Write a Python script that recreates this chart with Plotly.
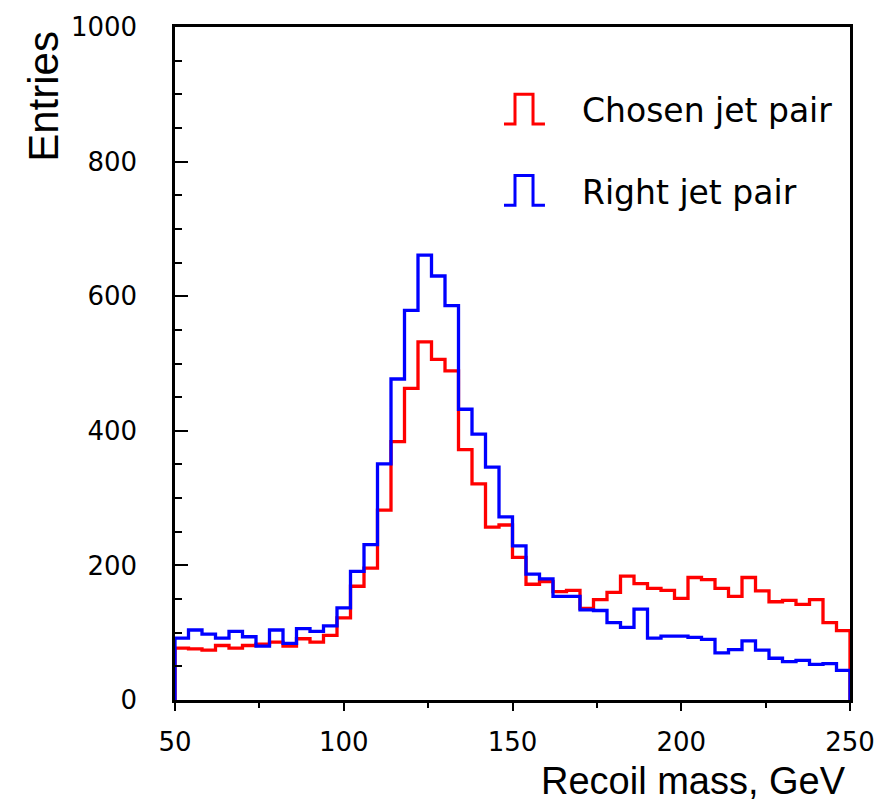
import plotly.graph_objects as go

# Bin edges (4 GeV bins from 50 to 250)
bin_edges = [50, 54, 58, 62, 66, 70, 74, 78, 82, 86, 90, 94, 98, 102, 106, 110, 114, 118, 122, 126,
             130, 134, 138, 142, 146, 150, 154, 158, 162, 166, 170, 174, 178, 182, 186, 190, 194, 198,
             202, 206, 210, 214, 218, 222, 226, 230, 234, 238, 242, 246, 250]

chosen = [77, 76, 74, 81, 77, 81, 83, 86, 80, 91, 86, 96, 122, 169, 196, 282, 384, 463, 532, 506,
          489, 372, 321, 257, 260, 212, 172, 176, 161, 163, 136, 149, 160, 184, 173, 166, 163, 151,
          182, 179, 166, 154, 182, 162, 146, 148, 142, 149, 115, 103]

right = [92, 104, 98, 92, 102, 94, 80, 104, 84, 106, 102, 110, 137, 191, 231, 351, 477, 579, 661, 630,
         586, 432, 395, 346, 272, 229, 187, 180, 154, 154, 134, 133, 115, 108, 135, 92, 95, 95,
         93, 90, 70, 75, 88, 74, 62, 57, 59, 53, 54, 44]


def step_xy(edges, vals):
    xs = [edges[0]] + list(edges[:-1]) + [edges[-1], edges[-1]]
    ys = [0] + list(vals) + [vals[-1], 0]
    return xs, ys


fig = go.Figure()
for name, vals, col in [("Chosen jet pair", chosen, "#ff0000"), ("Right jet pair", right, "#0000ff")]:
    xs, ys = step_xy(bin_edges, vals)
    fig.add_trace(go.Scatter(x=xs, y=ys, mode="lines", line=dict(shape="hv", color=col, width=3.3),
                             name=name, showlegend=False, cliponaxis=False))

L, R, T, B = 175, 39, 20, 108
W, H = 889, 808
pw, ph = W - L - R, H - T - B


def px2paper(px, py):
    return (px - L) / pw, (H - B - py) / ph


# Legend glyphs (pulse shapes) and labels
for (ybase, ytop, col, label, ytext) in [(118, 88, "#ff0000", "Chosen jet pair", 104),
                                           (200, 170, "#0000ff", "Right jet pair", 187)]:
    pts = [(504, ybase), (515, ybase), (515, ytop), (533, ytop), (533, ybase), (545, ybase)]
    pp = [px2paper(a, b) for a, b in pts]
    path = "M " + " L ".join(f"{a:.4f},{b:.4f}" for a, b in pp)
    fig.add_shape(type="path", path=path, xref="paper", yref="paper",
                  line=dict(color=col, width=3))
    tx, ty = px2paper(580, ytext)
    fig.add_annotation(x=tx, y=ty, xref="paper", yref="paper", text=label, showarrow=False,
                       xanchor="left", yanchor="middle",
                       font=dict(family="DejaVu Sans", size=33, color="black"))

# Axis titles
ex, ey = px2paper(18, 90)
fig.add_annotation(x=ex, y=ey, xref="paper", yref="paper", text="Entries", textangle=-90,
                   showarrow=False, xanchor="left", yanchor="middle",
                   font=dict(family="Liberation Sans", size=42, color="black"))
rx, ry = px2paper(848, 782)
fig.add_annotation(x=rx, y=ry, xref="paper", yref="paper", text="Recoil mass, GeV",
                   showarrow=False, xanchor="right", yanchor="middle",
                   font=dict(family="Liberation Sans", size=38, color="black"))

fig.update_layout(
    width=W, height=H,
    margin=dict(l=L, r=R, t=T, b=B),
    paper_bgcolor="white", plot_bgcolor="white",
    font=dict(family="DejaVu Sans", size=26, color="black"),
)
fig.update_xaxes(range=[50, 250], tickvals=[50, 100, 150, 200, 250], ticks="outside", ticklen=8,
                 tickwidth=2, tickcolor="black", showgrid=False, zeroline=False,
                 showline=True, linecolor="black", linewidth=2.5, mirror=True,
                 ticklabelstandoff=9,
                 minor=dict(dtick=25, tick0=50, ticks="outside", ticklen=5, tickwidth=2,
                            tickcolor="black", showgrid=False))
fig.update_yaxes(range=[0, 1000], tickvals=[0, 200, 400, 600, 800, 1000], ticks="inside", ticklen=13,
                 tickwidth=2, tickcolor="black", showgrid=False, zeroline=False,
                 showline=True, linecolor="black", linewidth=2.5, mirror=True,
                 ticklabelstandoff=30,
                 minor=dict(dtick=50, tick0=0, ticks="inside", ticklen=7, tickwidth=2,
                            tickcolor="black", showgrid=False))

fig.write_html("out.html")
